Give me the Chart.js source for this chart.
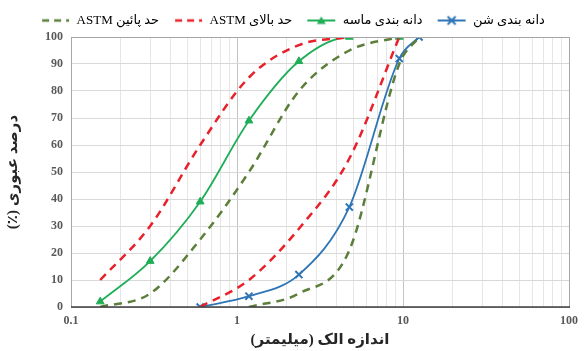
<!DOCTYPE html>
<html>
<head>
<meta charset="utf-8">
<script src="https://cdn.jsdelivr.net/npm/chart.js@4"></script>
<style>
    html, body { margin: 0; padding: 0; background: #ffffff; }
    #wrap { width: 585px; height: 351px; }
</style>
</head>
<body>
<div id="wrap"><canvas id="gradationChart" dir="rtl" width="585" height="351"></canvas></div>
<script>
// sieve sizes (mm) and passing percent for each curve
const gravelSizes = [0.6, 1.18, 2.36, 4.75, 9.5, 12.5];
const gravelPassing = [0, 4, 12, 37, 92, 100];

const sandSizes = [0.15, 0.3, 0.6, 1.18, 2.36, 4.75, 9.5];
const sandPassing = [2, 17, 39, 69, 91, 100, 100];

const sandUpperSizes = [0.15, 0.3, 0.6, 1.18, 2.36, 4.75];
const sandUpper = [10, 30, 60, 85, 97, 100];
const gravelUpperSizes = [0.6, 1.18, 2.36, 4.75, 9.5];
const gravelUpper = [0, 10, 29, 55, 100];

const sandLowerSizes = [0.15, 0.3, 0.6, 1.18, 2.36, 4.75, 9.5];
const sandLower = [0, 5, 25, 50, 80, 95, 100];
const gravelLowerSizes = [1.18, 2.36, 4.75, 9.5, 12.5];
const gravelLower = [0, 5, 21, 90, 100];

const majorTicks = [0.1, 1, 10, 100];
const minorSteps = [2, 3, 4, 5, 6, 7, 8, 9];

const seriesNames = {
    gravel: 'دانه بندی شن',
    sand: 'دانه بندی ماسه',
    upper: 'حد بالای ASTM',
    lower: 'حد پائین ASTM'
};

const colors = {
    gravel: '#2e75b6',
    sand: '#1fae57',
    upper: '#e8202a',
    lower: '#5b7f3a'
};

const serif = "'Liberation Serif', 'DejaVu Sans', serif";

function toPoints(xs, ys) {
    return xs.map((x, i) => ({ x: x, y: ys[i] }));
}

//..legend sample: short line with the series marker
function legendSample(color, dashed, marker) {
    const c = document.createElement('canvas');
    c.width = 30;
    c.height = 12;
    const ctx = c.getContext('2d');
    ctx.strokeStyle = color;
    ctx.lineWidth = dashed ? 2.5 : 2;
    if (dashed) ctx.setLineDash([7, 5]);
    ctx.beginPath();
    ctx.moveTo(dashed ? 2 : 1, 6);
    ctx.lineTo(29, 6);
    ctx.stroke();
    ctx.setLineDash([]);
    if (marker === 'cross') {
        ctx.lineWidth = 2;
        ctx.beginPath();
        ctx.moveTo(11, 2); ctx.lineTo(19, 10);
        ctx.moveTo(19, 2); ctx.lineTo(11, 10);
        ctx.stroke();
    } else if (marker === 'triangle') {
        ctx.fillStyle = color;
        ctx.beginPath();
        ctx.moveTo(15, 2); ctx.lineTo(19.5, 9.5); ctx.lineTo(10.5, 9.5);
        ctx.closePath();
        ctx.fill();
    }
    return c;
}

const legendItems = [
    { text: seriesNames.lower, img: legendSample(colors.lower, true, null) },
    { text: seriesNames.upper, img: legendSample(colors.upper, true, null) },
    { text: seriesNames.sand, img: legendSample(colors.sand, false, 'triangle') },
    { text: seriesNames.gravel, img: legendSample(colors.gravel, false, 'cross') }
];

//..plot area frame
const frameBorder = {
    id: 'frameBorder',
    afterDraw(chart) {
        const a = chart.chartArea;
        const ctx = chart.ctx;
        ctx.save();
        ctx.strokeStyle = '#a6a6a6';
        ctx.lineWidth = 1;
        ctx.strokeRect(a.left + 0.5, a.top + 0.5, a.right - a.left, a.bottom - a.top);
        ctx.strokeStyle = '#404040';
        ctx.lineWidth = 1.5;
        ctx.beginPath();
        ctx.moveTo(a.left, a.bottom);
        ctx.lineTo(a.right + 1, a.bottom);
        ctx.stroke();
        ctx.restore();
    }
};

function limitSet(label, data, color) {
    return {
        label: label,
        data: data,
        borderColor: color,
        backgroundColor: color,
        borderWidth: 2.5,
        borderDash: [8, 6],
        pointRadius: 0,
        cubicInterpolationMode: 'monotone',
        showLine: true
    };
}

const datasets = [
    limitSet(seriesNames.lower, toPoints(sandLowerSizes, sandLower), colors.lower),
    limitSet(seriesNames.lower, toPoints(gravelLowerSizes, gravelLower), colors.lower),
    limitSet(seriesNames.upper, toPoints(sandUpperSizes, sandUpper), colors.upper),
    limitSet(seriesNames.upper, toPoints(gravelUpperSizes, gravelUpper), colors.upper),
    {
        label: seriesNames.sand,
        data: toPoints(sandSizes, sandPassing),
        borderColor: colors.sand,
        backgroundColor: colors.sand,
        borderWidth: 1.8,
        pointStyle: 'triangle',
        pointRadius: 4.5,
        pointBorderWidth: 1,
        cubicInterpolationMode: 'monotone',
        showLine: true
    },
    {
        label: seriesNames.gravel,
        data: toPoints(gravelSizes, gravelPassing),
        borderColor: colors.gravel,
        backgroundColor: colors.gravel,
        borderWidth: 1.8,
        pointStyle: 'crossRot',
        pointRadius: 5,
        pointBorderWidth: 2,
        cubicInterpolationMode: 'monotone',
        showLine: true
    }
];

new Chart(document.getElementById('gradationChart'), {
    type: 'scatter',
    data: { datasets: datasets },
    options: {
        responsive: false,
        animation: false,
        layout: { padding: { left: 4, right: 4, top: 0, bottom: 2 } },
        plugins: {
            tooltip: { enabled: false },
            legend: {
                position: 'top',
                align: 'center',
                labels: {
                    usePointStyle: true,
                    pointStyleWidth: 30,
                    boxHeight: 12,
                    padding: 14,
                    color: '#404040',
                    font: { family: serif, size: 13 },
                    generateLabels() {
                        return legendItems.map(item => ({
                            text: item.text,
                            pointStyle: item.img,
                            fillStyle: 'transparent',
                            strokeStyle: 'transparent',
                            lineWidth: 0,
                            hidden: false
                        }));
                    }
                }
            }
        },
        scales: {
            x: {
                type: 'logarithmic',
                min: 0.1,
                max: 100,
                afterBuildTicks(scale) {
                    const values = [];
                    majorTicks.forEach(m => {
                        values.push(m);
                        if (m < 100) minorSteps.forEach(s => values.push(Math.round(m * s * 1000) / 1000));
                    });
                    scale.ticks = values.map(v => ({ value: v }));
                },
                afterFit(scale) { scale.height = 42; },
                ticks: {
                    autoSkip: false,
                    maxRotation: 0,
                    padding: 7,
                    color: '#595959',
                    font: { family: serif, size: 12, weight: 'bold' },
                    callback(value) {
                        return majorTicks.includes(value) ? String(value) : '';
                    }
                },
                grid: {
                    drawTicks: false,
                    color(ctx) {
                        return ctx.tick && majorTicks.includes(ctx.tick.value) ? '#c4c4c4' : '#e6e6e6';
                    }
                },
                border: { display: false },
                title: {
                    display: true,
                    text: 'اندازه الک (میلیمتر)',
                    color: '#262626',
                    font: { family: serif, size: 15, weight: 'bold' },
                    padding: { top: 2, bottom: 0 }
                }
            },
            y: {
                min: 0,
                max: 100,
                afterFit(scale) { scale.width = 67; },
                ticks: {
                    stepSize: 10,
                    padding: 8,
                    color: '#595959',
                    font: { family: serif, size: 12, weight: 'bold' }
                },
                grid: { drawTicks: false, color: '#d9d9d9' },
                border: { display: false },
                title: {
                    display: true,
                    text: 'درصد عبوری (٪)',
                    color: '#262626',
                    font: { family: serif, size: 15, weight: 'bold' },
                    padding: { top: 0, bottom: 4 }
                }
            }
        }
    },
    plugins: [frameBorder]
});
</script>
</body>
</html>
